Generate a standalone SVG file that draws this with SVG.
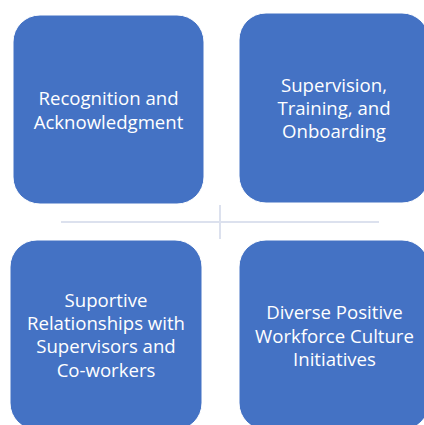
<svg xmlns="http://www.w3.org/2000/svg" width="424" height="425" viewBox="0 0 424 425">
  <style>
    .box { fill: #4472C4; stroke: #ffffff; stroke-width: 1; }
    .label { font-family: "Open Sans", "Liberation Sans", sans-serif; font-size: 18.6px; fill: #ffffff; text-anchor: middle; }
    .axis { stroke: #DCE1EE; stroke-width: 2; fill: none; }
  </style>
  <rect width="424" height="425" fill="#ffffff"/>

  <!-- cross-shaped axis lines between the four quadrants -->
  <g id="connectors">
    <line class="axis" x1="61" y1="222" x2="379" y2="222"/>
    <line class="axis" x1="220" y1="205" x2="220" y2="239"/>
  </g>

  <g id="node-recognition">
    <rect class="box" x="13" y="15" width="191" height="189" rx="27" ry="27"/>
    <text class="label" x="108.5" y="105">Recognition and</text>
    <text class="label" x="108.5" y="129">Acknowledgment</text>
  </g>

  <g id="node-supervision">
    <rect class="box" x="239" y="13" width="190" height="190" rx="27" ry="27"/>
    <text class="label" x="334" y="92">Supervision,</text>
    <text class="label" x="334" y="115">Training, and</text>
    <text class="label" x="334" y="138">Onboarding</text>
  </g>

  <g id="node-relationships">
    <rect class="box" x="10" y="240" width="192" height="190" rx="27" ry="27"/>
    <text class="label" x="106" y="307">Suportive</text>
    <text class="label" x="106" y="330">Relationships with</text>
    <text class="label" x="106" y="353">Supervisors and</text>
    <text class="label" x="106" y="377">Co-workers</text>
  </g>

  <g id="node-culture">
    <rect class="box" x="239" y="240" width="190" height="190" rx="27" ry="27"/>
    <text class="label" x="334.5" y="319">Diverse Positive</text>
    <text class="label" x="334.5" y="343">Workforce Culture</text>
    <text class="label" x="334.5" y="366">Initiatives</text>
  </g>
</svg>
